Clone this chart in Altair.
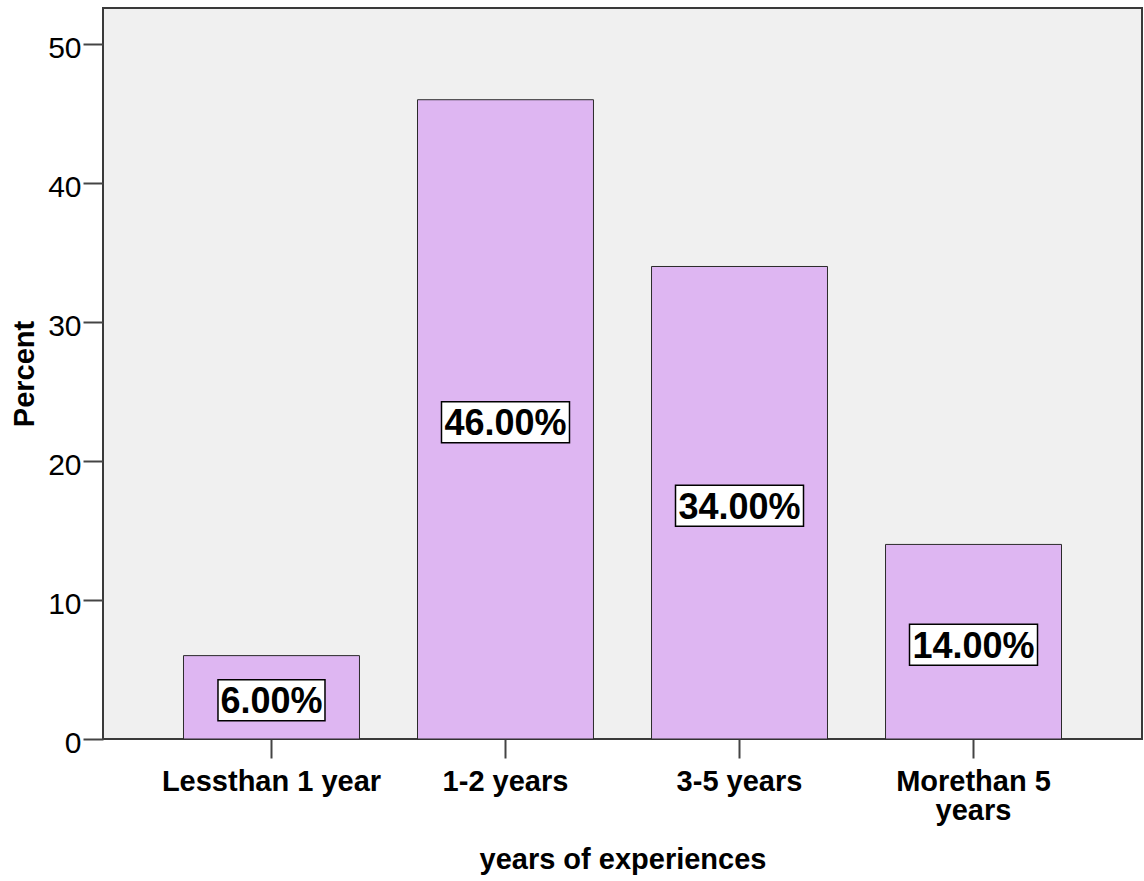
import altair as alt
import pandas as pd

# Share of respondents by years of experience
categories = ["Lessthan 1 year", "1-2 years", "3-5 years", "Morethan 5 years"]
percents = [6.0, 46.0, 34.0, 14.0]
tick_values = [0, 10, 20, 30, 40, 50]

df = pd.DataFrame({"experience": categories, "percent": percents})

FONT = "Liberation Sans"

x_enc = alt.X(
    "experience:N",
    sort=categories,
    title="years of experiences",
    scale=alt.Scale(paddingInner=0.248, paddingOuter=0.344),
    axis=alt.Axis(
        labelAngle=0,
        labelFontSize=29,
        labelFontWeight="bold",
        labelColor="black",
        labelLimit=0,
        labelPadding=9,
        labelLineHeight=29,
        labelExpr="datum.label == 'Morethan 5 years' ? ['Morethan 5', 'years'] : datum.label",
        tickSize=19,
        tickColor="#444444",
        tickWidth=2,
        domain=False,
        titleFontSize=29,
        titleFontWeight="bold",
        titleColor="black",
        titleY=129,
        titleBaseline="alphabetic",
    ),
)

y_enc = alt.Y(
    "percent:Q",
    title="Percent",
    scale=alt.Scale(domain=[0, 52.6], nice=False, zero=True),
    axis=alt.Axis(
        values=tick_values,
        grid=False,
        labelFontSize=30,
        labelColor="black",
        labelPadding=2,
        labelOffset=4,
        tickSize=20,
        tickColor="#444444",
        tickWidth=2,
        domain=False,
        titleFontSize=29,
        titleFontWeight="bold",
        titleColor="black",
        titleX=-70,
        titleBaseline="alphabetic",
    ),
)

bars = alt.Chart(df).mark_bar(
    color="#DEB6F2", stroke="#2b2b2b", strokeWidth=1
).encode(x=x_enc, y=y_enc)

labelled = alt.Chart(df).transform_calculate(
    label="format(datum.percent, '.2f') + '%'",
    mid="datum.percent / 2",
    bw="21 * length(datum.label) + 2",
    box_size="datum.bw * datum.bw",
    hh="41 / datum.bw",
    box_path="'M-1,' + (-datum.hh) + 'L1,' + (-datum.hh) + 'L1,' + datum.hh + 'L-1,' + datum.hh + 'Z'",
)

boxes = labelled.mark_point(
    filled=True, fill="white", stroke="black", strokeWidth=1.5, opacity=1, yOffset=3
).encode(
    x=alt.X("experience:N", sort=categories),
    y=alt.Y("mid:Q"),
    size=alt.Size("box_size:Q", scale=None, legend=None),
    shape=alt.Shape("box_path:N", scale=None, legend=None),
)

texts = labelled.mark_text(
    fontSize=36, fontWeight="bold", color="black", baseline="middle", dy=5
).encode(
    x=alt.X("experience:N", sort=categories),
    y=alt.Y("mid:Q"),
    text="label:N",
)

chart = (
    alt.layer(bars, boxes, texts)
    .properties(
        width=1039,
        height=731,
        padding={"left": 103, "top": 8, "right": 2, "bottom": 142},
        autosize="none",
        background="white",
    )
    .configure(font=FONT)
    .configure_view(stroke="#3a3a3a", strokeWidth=2, fill="#F0F0F0")
)

chart.save("out.html", embed_options={"renderer": "svg", "actions": False})
